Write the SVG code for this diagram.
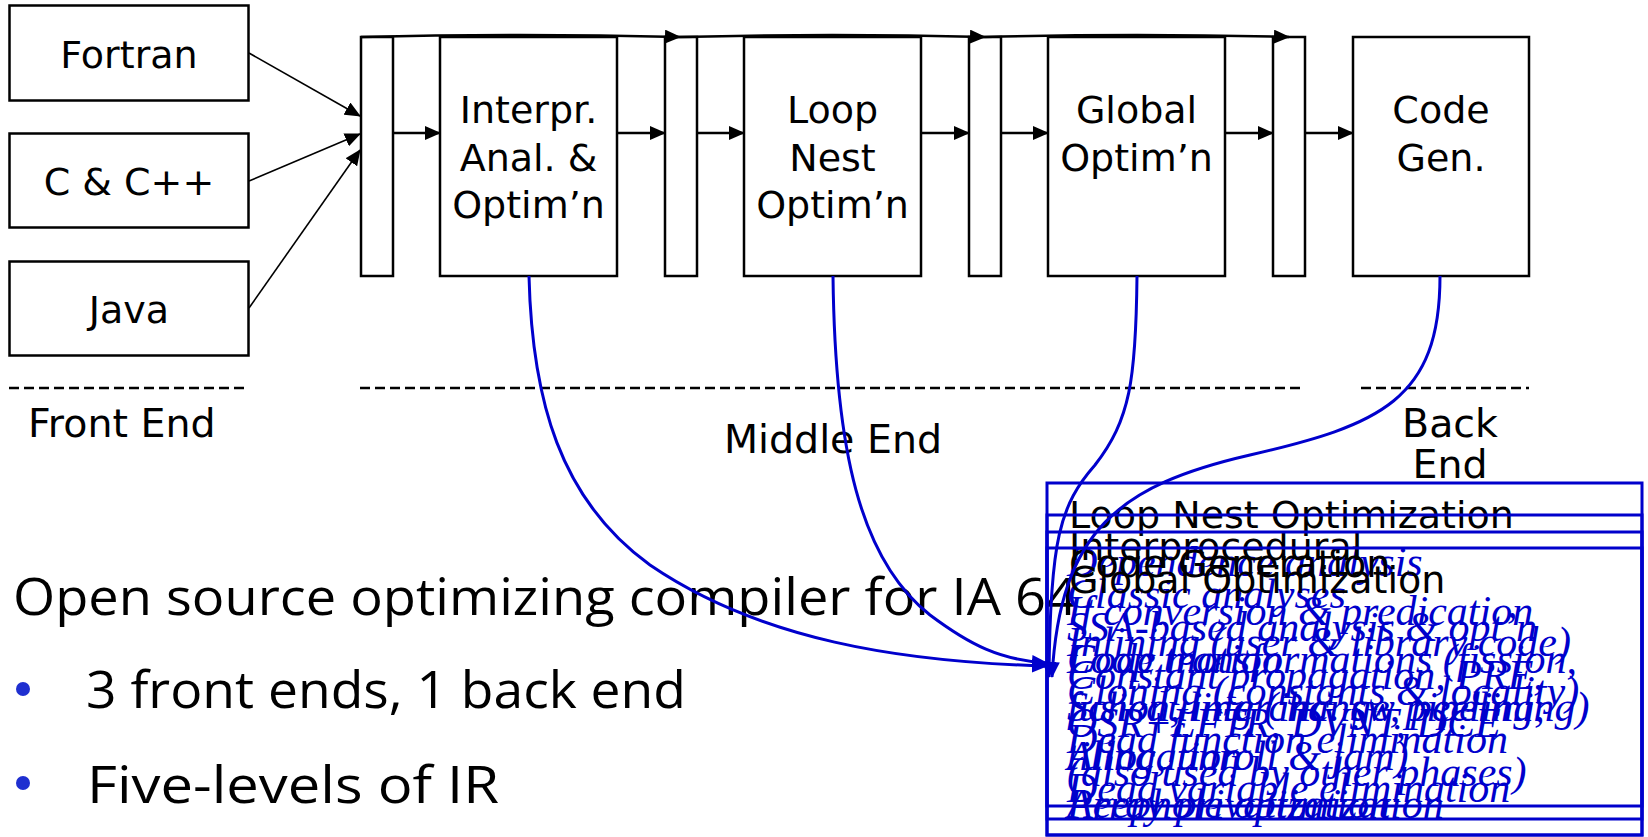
<svg xmlns="http://www.w3.org/2000/svg" width="1648" height="837" viewBox="0 0 1648 837">
  <defs>
    <style>
      .lbl{font-family:"DejaVu Sans",Verdana,sans-serif;font-size:38px;fill:#000}
      .stage{font-size:39.5px}
      .ctr{text-anchor:middle}
      .box{fill:#fff;stroke:#000;stroke-width:2.5}
      .flow{stroke:#000;stroke-width:2.5;fill:none}
      .feed{stroke:#000;stroke-width:1.6;fill:none}
      .link{stroke:#0000cc;stroke-width:3;fill:none}
      .panel{fill:none;stroke:#0000cc;stroke-width:3}
      .item{font-family:"Liberation Serif","Times New Roman",serif;font-style:italic;font-size:42px;fill:#0000cc}
      .comic{font-family:"Comic Sans MS","Open Sans",sans-serif;font-size:52px;fill:#000}
      .dash{stroke:#000;stroke-width:2.5;stroke-dasharray:10 5;fill:none}
      .dot{fill:#1f2fd0}
    </style>
    <marker id="ah" markerUnits="userSpaceOnUse" markerWidth="16" markerHeight="14" refX="15" refY="7" orient="auto">
      <path d="M0,0 L16,7 L0,14 z" fill="#000"/>
    </marker>
    <marker id="ahb" markerUnits="userSpaceOnUse" markerWidth="16" markerHeight="14" refX="15" refY="7" orient="auto">
      <path d="M0,0 L16,7 L0,14 z" fill="#0000cc"/>
    </marker>
  </defs>

  <rect width="1648" height="837" fill="#fff"/>

  <!-- front ends -->
  <g id="fortran">
    <rect class="box" x="9.5" y="5.5" width="239" height="95"/>
    <text class="lbl ctr" x="129" y="68">Fortran</text>
  </g>
  <g id="c-cpp">
    <rect class="box" x="9.5" y="133.5" width="239" height="94"/>
    <text class="lbl ctr" x="129" y="195">C &amp; C++</text>
  </g>
  <g id="java">
    <rect class="box" x="9.5" y="261.5" width="239" height="94"/>
    <text class="lbl ctr" x="129" y="323">Java</text>
  </g>

  <!-- IR hand-off bars -->
  <g id="bar1"><rect class="box" x="361" y="37" width="32" height="239"/></g>
  <g id="bar2"><rect class="box" x="665" y="37" width="32" height="239"/></g>
  <g id="bar3"><rect class="box" x="969" y="37" width="32" height="239"/></g>
  <g id="bar4"><rect class="box" x="1273" y="37" width="32" height="239"/></g>

  <!-- optimisation phases -->
  <g id="ipa">
    <rect class="box" x="440" y="37" width="177" height="239"/>
    <text class="lbl ctr" x="528.5" y="123">Interpr.</text>
    <text class="lbl ctr" x="528.5" y="171">Anal. &amp;</text>
    <text class="lbl ctr" x="528.5" y="218">Optim’n</text>
  </g>
  <g id="lno">
    <rect class="box" x="744" y="37" width="177" height="239"/>
    <text class="lbl ctr" x="832.5" y="123">Loop</text>
    <text class="lbl ctr" x="832.5" y="171">Nest</text>
    <text class="lbl ctr" x="832.5" y="218">Optim’n</text>
  </g>
  <g id="wopt">
    <rect class="box" x="1048" y="37" width="177" height="239"/>
    <text class="lbl ctr" x="1136.5" y="123">Global</text>
    <text class="lbl ctr" x="1136.5" y="171">Optim’n</text>
  </g>
  <g id="cg">
    <rect class="box" x="1353" y="37" width="176" height="239"/>
    <text class="lbl ctr" x="1441" y="123">Code</text>
    <text class="lbl ctr" x="1441" y="171">Gen.</text>
  </g>

  <!-- black connectors -->
  <g id="connectors">
    <path class="feed" d="M249,53 L360,116" marker-end="url(#ah)"/>
    <path class="feed" d="M249,181 L360,134" marker-end="url(#ah)"/>
    <path class="feed" d="M249,308 L360,150" marker-end="url(#ah)"/>

    <path class="flow" d="M393,133 L440,133" marker-end="url(#ah)"/>
    <path class="flow" d="M617,133 L665,133" marker-end="url(#ah)"/>
    <path class="flow" d="M697,133 L744,133" marker-end="url(#ah)"/>
    <path class="flow" d="M921,133 L969,133" marker-end="url(#ah)"/>
    <path class="flow" d="M1001,133 L1048,133" marker-end="url(#ah)"/>
    <path class="flow" d="M1225,133 L1273,133" marker-end="url(#ah)"/>
    <path class="flow" d="M1305,133 L1353,133" marker-end="url(#ah)"/>

    <path class="flow" d="M361,37 Q520,33 680,37" marker-end="url(#ah)"/>
    <path class="flow" d="M680,37 Q832,33 985,37" marker-end="url(#ah)"/>
    <path class="flow" d="M985,37 Q1137,33 1289,37" marker-end="url(#ah)"/>
  </g>

  <!-- stage dividers -->
  <g id="stages">
    <line class="dash" x1="9" y1="388" x2="244" y2="388"/>
    <line class="dash" x1="360" y1="388" x2="1302" y2="388"/>
    <line class="dash" x1="1361" y1="388" x2="1529" y2="388"/>
    <text class="lbl stage" x="28" y="437">Front End</text>
    <text class="lbl stage ctr" x="833" y="453">Middle End</text>
    <text class="lbl stage ctr" x="1450" y="437">Back</text>
    <text class="lbl stage ctr" x="1450" y="478">End</text>
  </g>

  <!-- summary bullets -->
  <g id="summary">
    <text class="comic" x="13" y="615" textLength="1064" lengthAdjust="spacingAndGlyphs">Open source optimizing compiler for IA 64</text>
    <circle class="dot" cx="23" cy="689" r="7"/>
    <text class="comic" x="86" y="708" textLength="600" lengthAdjust="spacingAndGlyphs">3 front ends, 1 back end</text>
    <circle class="dot" cx="23" cy="783" r="7"/>
    <text class="comic" x="87" y="803" textLength="412" lengthAdjust="spacingAndGlyphs">Five-levels of IR</text>
  </g>

  <!-- phase detail panels -->
  <g id="panel-lno">
    <rect class="panel" x="1047" y="483" width="595" height="352"/>
    <text class="lbl" x="1069" y="528">Loop Nest Optimization</text>
    <text class="item" x="1067" y="576">Dependence analysis</text>
    <text class="item" x="1067" y="673">Loop transformations (fission,</text>
    <text class="item" x="1067" y="721">fusion, interchange, peeling,</text>
    <text class="item" x="1067" y="770">tiling, unroll &amp; jam)</text>
    <text class="item" x="1067" y="818">Array privatization</text>
  </g>
  <g id="panel-ipa">
    <rect class="panel" x="1047" y="515" width="595" height="304"/>
    <text class="lbl" x="1069" y="560">Interprocedural</text>
    <text class="item" x="1067" y="608">Classic analyses</text>
    <text class="item" x="1067" y="656">Inlining (user &amp; library code)</text>
    <text class="item" x="1067" y="705">Cloning (constants &amp; locality)</text>
    <text class="item" x="1067" y="753">Dead function elimination</text>
    <text class="item" x="1067" y="802">Dead variable elimination</text>
  </g>
  <g id="panel-cg">
    <rect class="panel" x="1047" y="532" width="595" height="303"/>
    <text class="lbl" x="1069" y="577">Code Generation</text>
    <text class="item" x="1067" y="625">If conversion &amp; predication</text>
    <text class="item" x="1067" y="673">Code motion</text>
    <text class="item" x="1067" y="721">Scheduling (inc. sw pipelining)</text>
    <text class="item" x="1067" y="770">Allocation</text>
    <text class="item" x="1067" y="818">Peephole optimization</text>
  </g>
  <g id="panel-wopt">
    <rect class="panel" x="1047" y="548" width="595" height="258"/>
    <text class="lbl" x="1069" y="593">Global Optimization</text>
    <text class="item" x="1067" y="641">SSA-based analysis &amp; opt’n</text>
    <text class="item" x="1067" y="689">Constant propagation, PRE,</text>
    <text class="item" x="1067" y="737">OSR+LFTR, DVNT, DCE</text>
    <text class="item" x="1067" y="786">(also used by other phases)</text>
  </g>

  <!-- blue call-out links -->
  <g id="links">
    <path class="link" d="M529,276 C532,400 560,500 650,565 C760,640 900,662 1047,666" marker-end="url(#ahb)"/>
    <path class="link" d="M833,276 C835,450 860,560 930,615 C970,645 1000,660 1047,663" marker-end="url(#ahb)"/>
    <path class="link" d="M1137,276 C1136,380 1130,420 1095,465 C1060,505 1050,540 1049,677" marker-end="url(#ahb)"/>
    <path class="link" d="M1440,276 C1440,400 1380,425 1250,455 C1120,485 1060,530 1052,677" marker-end="url(#ahb)"/>
  </g>
</svg>
